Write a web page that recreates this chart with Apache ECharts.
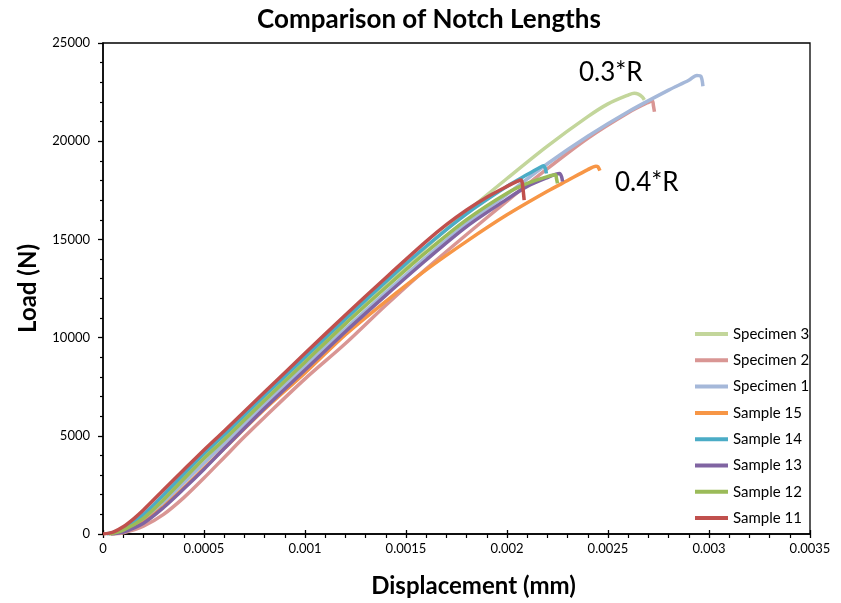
<!DOCTYPE html>
<html>
<head>
<meta charset="utf-8">
<script src="https://cdn.jsdelivr.net/npm/echarts@6/dist/echarts.min.js"></script>
<style>html,body{margin:0;padding:0;background:#fff}#c{width:841px;height:603px}</style>
</head>
<body>
<div id="c"></div>
<script>
// Displacement (mm), Load (N)
const specimen3 = [[0.00003,0],[0.0001,220],[0.0002,850],[0.0003,1850],[0.0004,2900],[0.0005,3950],[0.0006,4950],[0.0008,6950],[0.001,8900],[0.0012,10850],[0.0014,12750],[0.0016,14600],[0.0018,16400],[0.002,18100],[0.0022,19750],[0.0024,21250],[0.0025,21900],[0.0026,22350],[0.00263,22440],[0.00265,22400],[0.00267,22250],[0.00268,22100]];
const specimen2 = [[0.00005,0],[0.0001,60],[0.0002,400],[0.0003,1000],[0.0004,1850],[0.0005,2850],[0.0006,3900],[0.0007,4950],[0.0008,5950],[0.001,7900],[0.0012,9700],[0.0014,11650],[0.0016,13500],[0.0018,15250],[0.002,16950],[0.0022,18600],[0.0024,20150],[0.0026,21450],[0.0027,21980],[0.00272,22050],[0.002725,21800],[0.00273,21500]];
const specimen1 = [[0.00004,0],[0.0001,150],[0.0002,700],[0.0003,1600],[0.0004,2600],[0.0005,3600],[0.0006,4600],[0.0008,6600],[0.001,8550],[0.0012,10450],[0.0014,12300],[0.0016,14100],[0.0018,15800],[0.002,17300],[0.0022,18850],[0.0024,20250],[0.0026,21500],[0.0028,22600],[0.0029,23100],[0.00294,23350],[0.00296,23300],[0.00297,22800]];
const sample15 = [[0.00004,0],[0.0001,150],[0.0002,600],[0.0003,1400],[0.0004,2350],[0.0005,3350],[0.0006,4350],[0.0008,6350],[0.001,8200],[0.0012,10150],[0.0014,11850],[0.0016,13450],[0.0018,14900],[0.002,16250],[0.0022,17450],[0.0023,18000],[0.0024,18550],[0.00244,18730],[0.00245,18700],[0.00246,18500]];
const sample14 = [[0.00002,0],[0.0001,270],[0.0002,1000],[0.0003,2000],[0.0004,3050],[0.0005,4100],[0.0006,5050],[0.0008,7050],[0.001,9000],[0.0012,10950],[0.0014,12850],[0.0016,14650],[0.0018,16300],[0.002,17700],[0.0021,18300],[0.00216,18650],[0.00218,18750],[0.00219,18600],[0.002195,18350]];
const sample13 = [[0.00004,0],[0.0001,100],[0.0002,550],[0.0003,1350],[0.0004,2300],[0.0005,3300],[0.0006,4350],[0.0008,6400],[0.001,8350],[0.0012,10300],[0.0014,12150],[0.0016,13950],[0.0018,15650],[0.002,17050],[0.0021,17700],[0.0022,18150],[0.00226,18360],[0.00227,18200],[0.002275,17950]];
const sample12 = [[0.00003,0],[0.0001,200],[0.0002,800],[0.0003,1750],[0.0004,2800],[0.0005,3850],[0.0006,4800],[0.0008,6800],[0.001,8750],[0.0012,10700],[0.0014,12550],[0.0016,14350],[0.0018,16000],[0.002,17350],[0.0021,17850],[0.0022,18200],[0.00224,18290],[0.002245,18100],[0.00225,17850]];
const sample11 = [[0,0],[0.00005,100],[0.0001,370],[0.00015,760],[0.0002,1220],[0.0003,2250],[0.0004,3270],[0.0005,4280],[0.0006,5250],[0.0008,7230],[0.001,9200],[0.0012,11150],[0.0014,13050],[0.0016,14900],[0.0017,15750],[0.0018,16500],[0.0019,17150],[0.002,17700],[0.00205,17950],[0.00207,18030],[0.002075,17900],[0.00208,17500],[0.002085,17000]];

const seriesNames = ['Specimen 3','Specimen 2','Specimen 1','Sample 15','Sample 14','Sample 13','Sample 12','Sample 11'];
const seriesData = [specimen3, specimen2, specimen1, sample15, sample14, sample13, sample12, sample11];
const seriesColors = ['#C3D69B','#D99694','#A5B8D9','#F79646','#4BACC6','#8064A2','#9BBB59','#C0504D'];
const annotations = ['0.3*R','0.4*R'];

const FONT = 'Lato';
const chart = echarts.init(document.getElementById('c'));
chart.setOption({
  animation: false,
  backgroundColor: '#fff',
  title: {
    text: 'Comparison of Notch Lengths',
    left: 424, top: 2, textAlign: 'center',
    textStyle: {fontFamily: FONT, fontWeight: 'bold', fontSize: 26, color: '#000'}
  },
  grid: {left: 103, right: 31, top: 43, bottom: 69, show: true, borderColor: '#000', borderWidth: 1.3, containLabel: false},
  legend: {
    orient: 'vertical', left: 690, top: 321,
    icon: 'rect', itemWidth: 33, itemHeight: 4, itemGap: 10.3,
    textStyle: {fontFamily: FONT, fontSize: 15, lineHeight: 16, color: '#000'},
    data: seriesNames
  },
  xAxis: [{
    type: 'value', min: 0, max: 0.0035, interval: 0.0005,
    name: 'Displacement (mm)', nameLocation: 'middle', nameGap: 40,
    nameTextStyle: {fontFamily: FONT, fontWeight: 'bold', fontSize: 24, color: '#000', padding: [0,0,0,34]},
    axisLine: {show: true, lineStyle: {color: '#000', width: 1.5}},
    axisTick: {show: true, length: 4, lineStyle: {color: '#000', width: 1.3}},
    minorTick: {show: true, splitNumber: 5, length: 4, lineStyle: {color: '#000', width: 1.2}},
    splitLine: {show: false},
    axisLabel: {fontFamily: FONT, fontSize: 13, color: '#000', margin: 8,
      formatter: v => String(+v.toFixed(4))}
  },{
    type: 'value', min: 0, max: 0.0035, interval: 0.0005, position: 'bottom',
    axisLine: {show: false}, axisLabel: {show: false}, splitLine: {show: false},
    axisTick: {show: true, inside: true, length: 4, lineStyle: {color: '#000', width: 1.3}}
  }],
  yAxis: {
    type: 'value', min: 0, max: 25000, interval: 5000,
    name: 'Load (N)', nameLocation: 'middle', nameGap: 63,
    nameTextStyle: {fontFamily: FONT, fontWeight: 'bold', fontSize: 24, color: '#000'},
    axisLine: {show: true, lineStyle: {color: '#000', width: 1.5}},
    axisTick: {show: true, length: 5, lineStyle: {color: '#000', width: 1.3}},
    minorTick: {show: true, splitNumber: 5, length: 3, lineStyle: {color: '#000', width: 1.2}},
    splitLine: {show: false},
    axisLabel: {fontFamily: FONT, fontSize: 13, color: '#000', margin: 13, formatter: v => String(v)}
  },
  series: seriesNames.map((n, i) => ({
    name: n, type: 'line', data: seriesData[i], xAxisIndex: 0,
    smooth: 0.3, symbol: 'none', showSymbol: false,
    color: seriesColors[i],
    lineStyle: {width: 3.5, color: seriesColors[i]}
  })),
  graphic: [
    {type: 'text', left: 579, top: 60, style: {text: annotations[0], fontFamily: FONT, fontSize: 26, fill: '#000'}},
    {type: 'text', left: 615, top: 170, style: {text: annotations[1], fontFamily: FONT, fontSize: 26, fill: '#000'}}
  ]
});
</script>
</body>
</html>
